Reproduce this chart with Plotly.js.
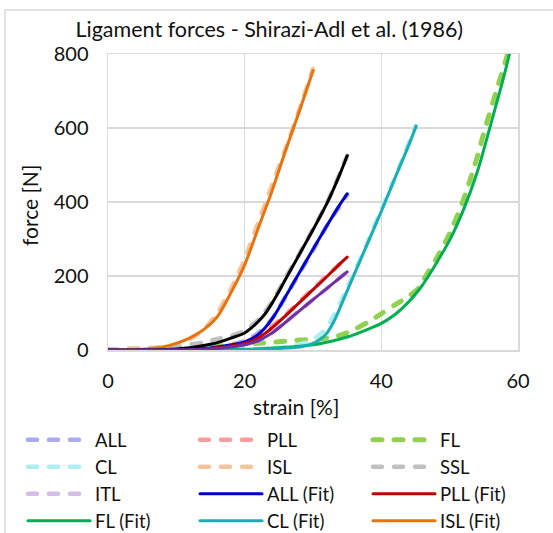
<!DOCTYPE html>
<html>
<head>
<meta charset="utf-8">
<script src="https://cdn.plot.ly/plotly-3.0.1.min.js"></script>
<style>
  html, body { margin: 0; padding: 0; background: #fff; }
  #chart { width: 553px; height: 533px; }
  path.js-line { stroke-linecap: round; stroke-linejoin: round; }
</style>
</head>
<body>
<div id="chart"></div>
<script>
// Measured ligament force vs strain (dashed) and fitted curves (solid)
const allStrain = [0, 10, 14, 18, 20, 22, 24, 26, 28, 30, 32, 35];
const allForce  = [0, 2, 5, 15, 25, 46, 84, 145, 207, 270, 335, 420];
const pllStrain = [0, 10, 15, 18, 20, 22, 24, 26, 28, 30, 32, 35];
const pllForce  = [0, 2, 5, 12, 21, 38, 64, 95, 130, 165, 200, 250];
const flStrain  = [0, 5, 10, 15, 20, 22, 25, 28, 31, 34, 36, 38, 40, 42, 44, 45.5, 46.5, 48, 50, 52, 54, 55.2, 57, 58.5, 59];
const flForce   = [0, 3, 6, 10, 15, 18, 22, 27, 30, 40, 55, 75, 98, 122, 145, 168, 200, 245, 315, 405, 520, 600, 710, 800, 830];
const clStrain  = [0, 20, 25, 28, 30, 32, 33, 34, 35, 36, 38, 40, 42, 45];
const clForce   = [0, 2, 6, 15, 28, 60, 92, 128, 168, 208, 292, 380, 466, 605];
const islStrain = [0, 2, 5, 8, 10, 12, 14, 16, 18, 20, 22, 24, 26, 28, 30];
const islForce  = [0, 3, 5, 8, 15, 30, 55, 100, 165, 245, 345, 445, 545, 650, 760];
const sslStrain = [0, 5, 10, 12, 14, 16, 18, 20, 22, 24, 26, 28, 30, 32, 35];
const sslForce  = [0, 2, 8, 15, 20, 30, 38, 52, 82, 130, 195, 260, 327, 396, 525];
const itlStrain = [0, 10, 14, 18, 20, 22, 24, 26, 28, 30, 32, 35];
const itlForce  = [0, 1, 3, 8, 14, 26, 47, 76, 106, 136, 166, 212];

const allFitStrain = [0, 5, 10, 14, 16, 18, 20, 21, 22, 23, 24, 25, 26, 27, 28, 30, 32, 34, 35];
const allFitForce  = [0, 0, 1, 4, 8, 14, 22, 30, 42, 60, 84, 113, 145, 177, 209, 272, 335, 395, 422];
const pllFitStrain = [0, 10, 14, 16, 18, 20, 21, 22, 23, 24, 25, 26, 28, 30, 32, 34, 35];
const pllFitForce  = [0, 1, 3, 6, 11, 18, 24, 33, 45, 60, 76, 93, 128, 163, 198, 234, 251];
const flFitStrain  = [0, 15, 20, 25, 30, 33, 35, 38, 40, 42, 44, 46, 47, 48, 50, 52, 54, 56, 58, 59];
const flFitForce   = [0, 0.5, 2, 6, 14, 25, 35, 56, 72, 96, 130, 175, 203, 233, 297, 378, 479, 609, 744, 820];
const clFitStrain  = [0, 15, 20, 25, 28, 29, 30, 31, 32, 33, 34, 35, 36, 37, 38, 40, 42, 44, 45.1];
const clFitForce   = [0, 0, 1, 4, 8, 12, 18, 28, 45, 75, 116, 160, 203, 246, 289, 375, 465, 553, 605];
const islFitStrain = [0, 5, 8, 10, 12, 14, 16, 18, 20, 22, 24, 26, 28, 30];
const islFitForce  = [0, 2, 8, 18, 33, 55, 90, 155, 230, 330, 430, 540, 645, 755];
const sslFitStrain = [0, 5, 10, 12, 14, 16, 18, 20, 21, 22, 23, 24, 25, 26, 28, 30, 32, 33, 34, 35];
const sslFitForce  = [0, 0.5, 3, 6, 12, 20, 32, 46, 60, 77, 98, 126, 158, 192, 258, 325, 395, 435, 478, 525];
const itlFitStrain = [0, 10, 14, 16, 18, 20, 21, 22, 23, 24, 25, 26, 28, 30, 32, 34, 35];
const itlFitForce  = [0, 0.5, 2, 4, 8, 14, 19, 25, 35, 46, 60, 75, 106, 136, 166, 196, 211];

const xTicks = [0, 20, 40, 60];
const yTicks = [0, 200, 400, 600, 800];

const FONT = 'Lato, "Open Sans", sans-serif';
const DASH = '9px,12px';

// legend column for each entry (three side-by-side vertical legends)
function measured(name, x, y, color, legendId, width) {
  return { type: 'scatter', mode: 'lines', name: name, x: x, y: y, legend: legendId,
    line: { color: color, width: width || 4.5, dash: DASH, shape: 'spline', smoothing: 0.8 } };
}
function fitted(name, x, y, color, legendId) {
  return { type: 'scatter', mode: 'lines', name: name, x: x, y: y,
    legend: legendId || 'legend', showlegend: !!legendId,
    line: { color: color, width: 3, shape: 'spline', smoothing: 0.8 } };
}

const traces = [
  measured('ALL', allStrain, allForce, '#a9a9f4', 'legend'),
  measured('PLL', pllStrain, pllForce, '#ff9b9b', 'legend2'),
  measured('FL', flStrain, flForce, '#92d050', 'legend3', 5),
  measured('CL', clStrain, clForce, '#aeeef3', 'legend'),
  measured('ISL', islStrain, islForce, '#f8c39b', 'legend2'),
  measured('SSL', sslStrain, sslForce, '#c0c0c0', 'legend3'),
  measured('ITL', itlStrain, itlForce, '#d6bce9', 'legend'),
  fitted('ALL (Fit)', allFitStrain, allFitForce, '#0000cc', 'legend2'),
  fitted('PLL (Fit)', pllFitStrain, pllFitForce, '#c00000', 'legend3'),
  fitted('FL (Fit)', flFitStrain, flFitForce, '#00b050', 'legend'),
  fitted('CL (Fit)', clFitStrain, clFitForce, '#18aeb6', 'legend2'),
  fitted('ISL (Fit)', islFitStrain, islFitForce, '#e8730e', 'legend3'),
  fitted('SSL (Fit)', sslFitStrain, sslFitForce, '#000000', null),
  fitted('ITL (Fit)', itlFitStrain, itlFitForce, '#7030a0', null)
];

function legendColumn(xPaper) {
  return {
    orientation: 'v', x: xPaper, y: -0.2405, xanchor: 'left', yanchor: 'top',
    itemwidth: 62, font: { family: FONT, size: 18.5, color: '#111111' },
    bgcolor: 'rgba(0,0,0,0)', borderwidth: 0, tracegroupgap: 0
  };
}

const layout = {
  width: 553, height: 533,
  margin: { l: 108, r: 35, t: 54, b: 183, autoexpand: false },
  paper_bgcolor: '#ffffff', plot_bgcolor: '#ffffff',
  font: { family: FONT, size: 20, color: '#111111' },
  title: { text: 'Ligament forces - Shirazi-Adl et al. (1986)',
    font: { family: FONT, size: 21.5, color: '#111111' },
    xref: 'container', yref: 'container', x: 0.487, y: 1 - 29 / 533,
    xanchor: 'center', yanchor: 'middle' },
  xaxis: {
    range: [0, 60], tickvals: xTicks, ticktext: xTicks.map(String),
    showgrid: true, gridcolor: '#d9d9d9', gridwidth: 1.5,
    zeroline: false, showline: true, mirror: true, linecolor: '#d9d9d9', linewidth: 1.5,
    ticks: 'outside', ticklen: 12, tickcolor: 'rgba(0,0,0,0)', automargin: false,
    tickfont: { family: FONT, size: 20 }
  },
  yaxis: {
    range: [0, 800], tickvals: yTicks, ticktext: yTicks.map(String),
    showgrid: true, gridcolor: '#d9d9d9', gridwidth: 1.5,
    zeroline: false, showline: true, mirror: true, linecolor: '#d9d9d9', linewidth: 1.5,
    ticks: 'outside', ticklen: 14, tickcolor: 'rgba(0,0,0,0)', automargin: false,
    tickfont: { family: FONT, size: 20 }
  },
  annotations: [
    { text: 'strain [%]', xref: 'paper', yref: 'paper',
      x: (296 - 108) / 410, y: (350 - 406) / 296, xanchor: 'center', yanchor: 'middle',
      showarrow: false, font: { family: FONT, size: 21, color: '#111111' } },
    { text: 'force [N]', xref: 'paper', yref: 'paper', textangle: -90,
      x: (29 - 108) / 410, y: (350 - 206) / 296, xanchor: 'center', yanchor: 'middle',
      showarrow: false, font: { family: FONT, size: 21, color: '#111111' } }
  ],
  legend: legendColumn((23 - 108) / 410),
  legend2: legendColumn((195 - 108) / 410),
  legend3: legendColumn((368 - 108) / 410),
  shapes: [{
    type: 'rect', xref: 'paper', yref: 'paper', layer: 'below',
    x0: (5 - 108) / 410, x1: 1.3, y0: -1, y1: (350 - 10) / 296,
    line: { color: '#d9d9d9', width: 1.5 }, fillcolor: 'rgba(0,0,0,0)'
  }],
  showlegend: true
};

Plotly.newPlot('chart', traces, layout, { displayModeBar: false, staticPlot: true });
</script>
</body>
</html>
